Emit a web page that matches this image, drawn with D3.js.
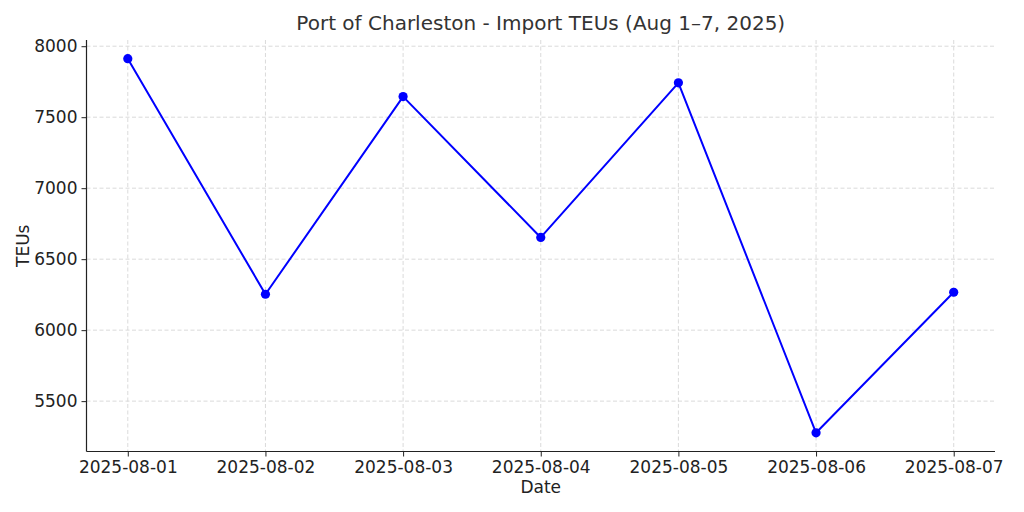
<!DOCTYPE html>
<html><head><meta charset="utf-8">
<script src="https://cdn.jsdelivr.net/npm/d3@7"></script>
<style>body{margin:0;background:#fff}svg{display:block;font-family:"DejaVu Sans",sans-serif}</style>
</head><body>
<svg id="c" width="1024" height="512"></svg>
<script>
const dates = ["2025-08-01","2025-08-02","2025-08-03","2025-08-04","2025-08-05","2025-08-06","2025-08-07"];
const teus = [7912, 6253, 7645, 6653, 7742, 5277, 6267];
const yTicks = [5500, 6000, 6500, 7000, 7500, 8000];

const svg = d3.select("#c");
const m = {l:86.5, r:995, t:40, b:451.5};
const x = d3.scaleLinear().domain([-0.3, 6.3]).range([m.l, m.r]);
const ymin = d3.min(teus), ymax = d3.max(teus), pad = (ymax-ymin)*0.05;
const y = d3.scaleLinear().domain([ymin-pad, ymax+pad]).range([m.b, m.t]);

// grid
const g = svg.append("g");
g.selectAll(".gx").data(dates).join("line")
  .attr("x1",(d,i)=>x(i)).attr("x2",(d,i)=>x(i)).attr("y1",m.t).attr("y2",m.b)
  .attr("stroke","#d0d0d0").attr("stroke-width",0.8).attr("stroke-dasharray","4,2.5");
g.selectAll(".gy").data(yTicks).join("line")
  .attr("x1",m.l).attr("x2",m.r).attr("y1",d=>y(d)).attr("y2",d=>y(d))
  .attr("stroke","#d0d0d0").attr("stroke-width",0.8).attr("stroke-dasharray","4,2.5");

// axes
const xAxis = d3.axisBottom(x).tickValues(d3.range(dates.length)).tickFormat(i=>dates[i]).tickSize(5).tickPadding(4);
const yAxis = d3.axisLeft(y).tickValues(yTicks).tickFormat(d3.format("d")).tickSize(5).tickPadding(4);
const ax = svg.append("g").attr("transform",`translate(0,${m.b})`).call(xAxis);
const ay = svg.append("g").attr("transform",`translate(${m.l},0)`).call(yAxis);
[ax, ay].forEach(a=>{
  a.select(".domain").attr("stroke","#222").attr("stroke-width",1.2);
  a.selectAll(".tick line").attr("stroke","#222").attr("stroke-width",1);
  a.selectAll("text").attr("fill","#222").style("font-size","17px").style("font-family","DejaVu Sans");
});
ax.select(".domain").attr("d",`M${m.l},0H${m.r}`);
ay.select(".domain").attr("d",`M0,${m.b}V${m.t}`);

// line
const line = d3.line().x((d,i)=>x(i)).y(d=>y(d));
svg.append("path").datum(teus).attr("d",line).attr("fill","none")
  .attr("stroke","#0000ff").attr("stroke-width",2).attr("stroke-linejoin","round");
svg.selectAll(".pt").data(teus).join("circle")
  .attr("cx",(d,i)=>x(i)).attr("cy",d=>y(d)).attr("r",4.6).attr("fill","#0000ff");

// labels
svg.append("text").attr("x",(m.l+m.r)/2).attr("y",30).attr("text-anchor","middle")
  .attr("fill","#333").style("font-size","20px").text("Port of Charleston - Import TEUs (Aug 1–7, 2025)");
svg.append("text").attr("x",(m.l+m.r)/2).attr("y",493).attr("text-anchor","middle")
  .attr("fill","#222").style("font-size","17px").text("Date");
svg.append("text").attr("transform",`translate(29,${(m.t+m.b)/2}) rotate(-90)`).attr("text-anchor","middle")
  .attr("fill","#222").style("font-size","17px").text("TEUs");
</script>
</body></html>
